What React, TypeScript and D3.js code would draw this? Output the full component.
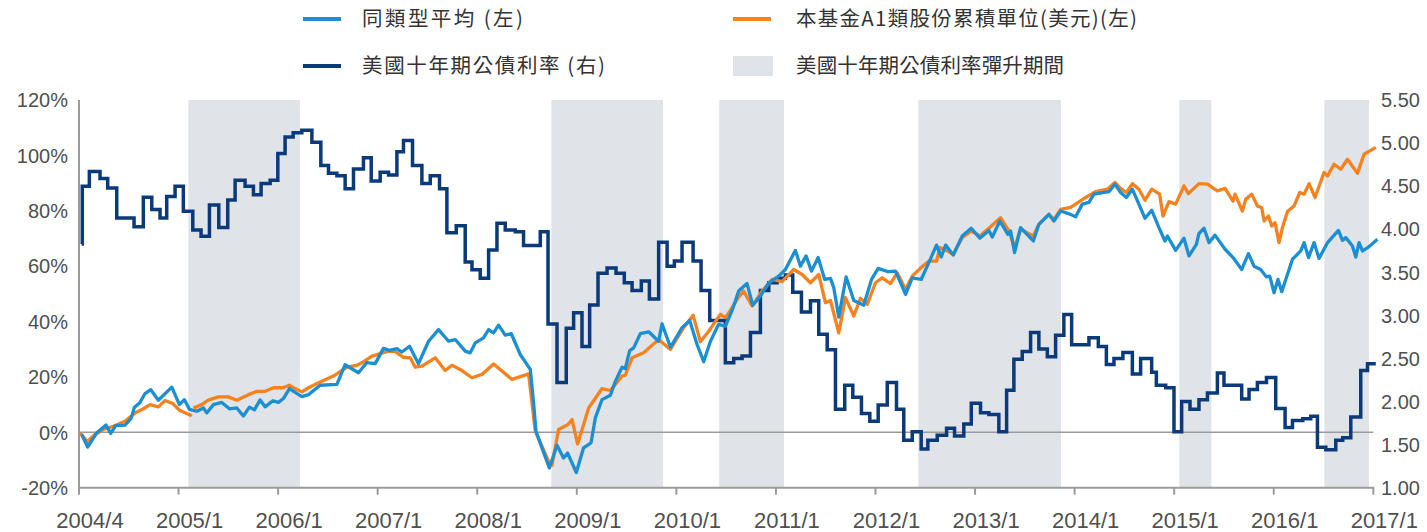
import React from 'react';
import * as d3 from 'd3';

// ---------- data ----------
const xTickLabels = ['2004/4','2005/1','2006/1','2007/1','2008/1','2009/1','2010/1','2011/1','2012/1','2013/1','2014/1','2015/1','2016/1','2017/1'];
const leftTicks = [-20, 0, 20, 40, 60, 80, 100, 120];
const rightTicks = [1.0, 1.5, 2.0, 2.5, 3.0, 3.5, 4.0, 4.5, 5.0, 5.5];

// periods when the US 10Y yield rose (axis units: 1 = one tick interval)
const risePeriods: [number, number][] = [
  [1.098, 2.220], [4.744, 5.866], [6.431, 7.081], [8.430, 9.863], [11.052, 11.373], [12.508, 12.957],
];

// 同類型平均 (%)
const peerAvg: [number, number][] = [
  [0.027,-0.8],[0.087,-5.3],[0.178,-0.2],[0.271,2.6],[0.319,-0.4],[0.369,2.4],[0.462,2.6],[0.523,5.0],[0.556,9.0],[0.613,10.8],[0.663,14.0],[0.721,15.4],[0.797,11.6],[0.932,16.3],[1.008,10.0],[1.058,11.8],[1.109,8.3],[1.183,7.6],[1.249,8.8],[1.283,7.0],[1.350,10.0],[1.434,10.8],[1.511,8.5],[1.585,8.8],[1.651,5.9],[1.712,9.1],[1.762,8.1],[1.819,11.7],[1.869,9.2],[1.947,11.4],[2.003,10.8],[2.053,12.2],[2.114,15.8],[2.171,14.4],[2.238,12.9],[2.305,13.6],[2.422,17.0],[2.590,17.3],[2.673,24.4],[2.807,21.5],[2.891,25.2],[2.975,24.8],[3.058,30.3],[3.119,29.6],[3.193,30.2],[3.243,29.0],[3.320,31.1],[3.410,24.8],[3.511,32.9],[3.611,37.1],[3.712,32.9],[3.779,33.5],[3.879,29.3],[3.930,28.7],[3.980,32.3],[4.063,34.1],[4.114,37.1],[4.164,35.9],[4.214,38.7],[4.281,35.1],[4.342,35.6],[4.432,28.1],[4.533,22.7],[4.566,10.6],[4.590,0.4],[4.650,-5.6],[4.724,-12.9],[4.801,-4.7],[4.867,-9.3],[4.908,-7.5],[4.995,-14.5],[5.068,-5.6],[5.143,-3.8],[5.186,5.2],[5.253,11.8],[5.337,13.4],[5.387,18.4],[5.454,23.5],[5.487,23.0],[5.531,29.5],[5.571,30.5],[5.638,35.6],[5.722,36.3],[5.822,32.9],[5.856,39.2],[5.940,30.7],[6.057,37.8],[6.134,40.4],[6.208,31.7],[6.274,25.5],[6.342,32.9],[6.425,39.0],[6.492,38.3],[6.560,44.0],[6.626,51.0],[6.710,53.7],[6.767,45.9],[6.844,49.2],[6.928,54.0],[7.028,56.4],[7.095,58.8],[7.196,65.7],[7.246,60.0],[7.303,63.7],[7.357,58.2],[7.424,63.1],[7.490,55.2],[7.548,55.6],[7.581,52.2],[7.631,41.6],[7.705,56.1],[7.782,47.6],[7.882,45.9],[7.960,55.2],[8.027,59.2],[8.128,58.0],[8.201,58.2],[8.302,49.8],[8.369,55.8],[8.459,55.2],[8.536,61.3],[8.613,67.6],[8.660,63.3],[8.704,67.6],[8.781,64.0],[8.871,70.9],[8.962,73.7],[9.048,70.1],[9.139,72.9],[9.173,70.5],[9.249,76.3],[9.330,71.5],[9.357,72.7],[9.397,64.9],[9.457,73.9],[9.585,69.1],[9.641,75.1],[9.742,78.7],[9.792,76.3],[9.859,79.9],[9.960,78.7],[10.010,77.8],[10.077,82.4],[10.144,83.0],[10.194,86.0],[10.345,86.9],[10.405,89.6],[10.462,86.6],[10.520,84.8],[10.580,87.8],[10.707,77.3],[10.774,80.2],[10.847,73.9],[10.907,69.1],[10.932,70.9],[11.015,65.7],[11.098,70.1],[11.149,63.7],[11.223,67.9],[11.249,71.8],[11.300,73.7],[11.350,68.5],[11.410,71.2],[11.511,66.1],[11.591,63.1],[11.678,58.8],[11.746,64.5],[11.802,60.0],[11.869,58.8],[11.927,56.1],[11.960,56.4],[12.003,50.4],[12.043,55.2],[12.080,50.8],[12.121,55.2],[12.188,62.5],[12.271,65.5],[12.305,68.5],[12.349,63.1],[12.405,68.5],[12.455,62.8],[12.540,68.5],[12.650,72.9],[12.690,69.3],[12.724,70.3],[12.791,67.3],[12.824,63.3],[12.857,68.5],[12.891,65.5],[12.952,66.9],[13.042,69.7],
];

// 本基金A1類股份累積單位(美元) (%), null = gap in the record
const fundA1: [number, number | null][] = [
  [0.010,-0.2],[0.083,-3.3],[0.161,-0.8],[0.244,1.0],[0.345,2.2],[0.462,4.0],[0.563,7.0],[0.646,8.5],[0.714,10.0],[0.797,9.2],[0.864,11.5],[0.942,10.4],[1.008,8.0],[1.133,6.0],
  [1.141,null],
  [1.149,8.8],[1.233,10.0],[1.299,11.6],[1.400,12.8],[1.500,12.8],[1.585,11.6],[1.702,13.6],[1.786,14.8],[1.869,14.8],[1.953,16.1],[2.047,16.1],[2.114,17.0],[2.171,15.8],[2.238,14.6],[2.305,16.1],[2.422,18.2],[2.556,20.3],[2.690,23.5],[2.791,24.2],[2.841,25.1],[2.942,27.5],[3.109,29.3],[3.176,29.1],[3.259,27.1],[3.327,26.9],[3.377,23.5],[3.444,23.9],[3.578,26.9],[3.678,22.3],[3.746,24.2],[3.829,22.7],[3.947,19.7],[4.047,20.9],[4.164,24.7],[4.349,19.1],[4.516,21.1],[4.583,0.4],[4.717,-10.5],[4.751,-11.9],[4.817,1.0],[4.912,2.8],[4.952,4.6],[5.008,-4.2],[5.119,8.8],[5.253,15.8],[5.337,15.1],[5.454,20.3],[5.487,20.6],[5.555,26.9],[5.671,28.7],[5.822,33.5],[5.940,29.9],[6.073,37.8],[6.168,42.3],[6.241,32.7],[6.325,36.5],[6.442,42.6],[6.492,41.4],[6.543,44.0],[6.626,48.9],[6.676,51.0],[6.761,45.6],[6.861,51.0],[6.962,55.2],[7.062,54.4],[7.179,58.8],[7.263,57.0],[7.347,54.0],[7.430,57.0],[7.497,46.8],[7.548,47.6],[7.631,35.9],[7.698,48.6],[7.782,42.0],[7.849,48.4],[7.917,46.2],[8.000,54.0],[8.067,55.8],[8.151,53.7],[8.218,57.6],[8.302,51.6],[8.369,56.4],[8.459,59.5],[8.536,61.8],[8.613,61.8],[8.646,66.7],[8.720,65.5],[8.781,64.3],[8.871,70.3],[8.962,72.7],[9.048,70.9],[9.139,73.7],[9.256,77.5],[9.340,72.7],[9.397,66.7],[9.457,73.3],[9.585,70.9],[9.641,75.1],[9.742,78.7],[9.792,76.9],[9.859,80.5],[9.960,81.2],[10.010,82.4],[10.111,84.8],[10.211,86.9],[10.329,87.8],[10.405,90.2],[10.462,88.1],[10.520,86.6],[10.580,89.8],[10.646,87.8],[10.707,83.8],[10.774,87.8],[10.854,86.0],[10.887,78.1],[10.947,83.3],[11.015,82.4],[11.098,89.0],[11.143,86.2],[11.249,89.8],[11.334,89.6],[11.434,87.2],[11.511,88.1],[11.591,83.5],[11.611,86.0],[11.685,79.9],[11.719,84.2],[11.779,86.0],[11.836,81.7],[11.879,81.2],[11.903,76.3],[11.947,78.1],[11.980,74.5],[12.013,75.7],[12.053,68.5],[12.087,73.9],[12.138,79.7],[12.204,81.7],[12.261,86.6],[12.305,86.0],[12.355,89.8],[12.415,84.8],[12.505,93.8],[12.540,92.6],[12.606,96.8],[12.673,95.0],[12.741,98.6],[12.841,93.5],[12.907,100.4],[13.025,102.9],
];

// 美國十年期公債利率 (%), step series (value holds until next point)
const us10y: [number, number][] = [
  [0.027,3.83],[0.033,4.50],[0.104,4.67],[0.211,4.59],[0.288,4.48],[0.379,4.13],[0.553,4.03],[0.646,4.37],[0.731,4.23],[0.814,4.13],[0.881,4.38],[0.965,4.50],[1.048,4.21],[1.143,3.99],[1.226,3.92],[1.310,4.28],[1.404,4.02],[1.494,4.34],[1.568,4.57],[1.668,4.50],[1.752,4.40],[1.829,4.53],[1.920,4.57],[1.997,4.88],[2.070,5.07],[2.151,5.12],[2.238,5.15],[2.339,5.01],[2.429,4.74],[2.506,4.65],[2.590,4.62],[2.673,4.47],[2.757,4.70],[2.857,4.83],[2.935,4.56],[3.025,4.66],[3.109,4.63],[3.193,4.90],[3.259,5.03],[3.350,4.74],[3.444,4.53],[3.528,4.62],[3.621,4.47],[3.695,3.96],[3.789,4.04],[3.879,3.62],[3.947,3.53],[4.030,3.43],[4.114,3.76],[4.198,4.07],[4.281,3.99],[4.382,3.97],[4.465,3.81],[4.633,3.97],[4.711,2.90],[4.801,2.22],[4.894,2.85],[4.968,3.03],[5.052,2.64],[5.129,3.12],[5.213,3.49],[5.304,3.55],[5.394,3.49],[5.477,3.38],[5.555,3.29],[5.648,3.40],[5.729,3.19],[5.822,3.85],[5.907,3.57],[5.980,3.63],[6.057,3.85],[6.168,3.63],[6.248,3.29],[6.335,2.94],[6.492,2.45],[6.576,2.50],[6.660,2.53],[6.744,2.80],[6.844,3.29],[6.928,3.38],[7.012,3.43],[7.095,3.47],[7.169,3.27],[7.256,3.04],[7.347,3.17],[7.430,2.78],[7.515,2.60],[7.598,1.91],[7.691,2.19],[7.772,2.05],[7.859,1.86],[7.943,1.77],[8.027,1.96],[8.118,2.22],[8.211,1.91],[8.284,1.55],[8.369,1.65],[8.459,1.45],[8.526,1.55],[8.620,1.61],[8.714,1.69],[8.794,1.60],[8.887,1.74],[8.962,1.98],[9.055,1.87],[9.139,1.85],[9.239,1.65],[9.317,2.13],[9.390,2.49],[9.474,2.58],[9.558,2.80],[9.641,2.61],[9.726,2.52],[9.809,2.77],[9.892,3.01],[9.970,2.66],[10.144,2.74],[10.238,2.64],[10.319,2.43],[10.395,2.50],[10.485,2.57],[10.580,2.32],[10.663,2.50],[10.774,2.34],[10.821,2.19],[10.915,2.16],[10.998,1.65],[11.075,2.00],[11.159,1.91],[11.249,2.02],[11.334,2.10],[11.434,2.33],[11.500,2.19],[11.678,2.03],[11.752,2.14],[11.836,2.22],[11.927,2.28],[12.020,1.92],[12.114,1.70],[12.188,1.78],[12.291,1.80],[12.372,1.83],[12.439,1.47],[12.523,1.44],[12.623,1.55],[12.693,1.58],[12.774,1.82],[12.874,2.36],[12.942,2.44],[13.025,2.44],
];

const legendLabels = ['同類型平均 (左)', '本基金A1類股份累積單位(美元)(左)', '美國十年期公債利率 (右)', '美國十年期公債利率彈升期間'];
const legendKinds = ['line', 'line', 'line', 'box'];
const legendColors = ['#1b8fd2', '#f5821f', '#0b3a7a', '#e0e3e7'];
const legendWidths = [161, 341, 243, 268];

// ---------- layout ----------
const W = 1427, H = 532;
const M = { left: 79, right: 1373.3, top: 100, bottom: 487.7 };
const COLORS = { peer: '#1b8fd2', fund: '#f5821f', rate: '#0b3a7a', shade: '#e0e3e7', axis: '#9b9b9b', text: '#505050' };
const NUM_FONT = '"Liberation Sans", Arial, Helvetica, sans-serif';
const CJK_FONT = '"Noto Sans CJK TC", "Noto Sans CJK SC", sans-serif';

export default function App() {
  const x = d3.scaleLinear().domain([0, 13]).range([M.left, M.right]);
  const yL = d3.scaleLinear().domain([-20, 120]).range([M.bottom, M.top]);
  const yR = d3.scaleLinear().domain([1, 5.5]).range([M.bottom, M.top]);

  const peerLine = d3.line<[number, number]>().x(d => x(d[0])).y(d => yL(d[1]));
  const fundLine = d3.line<[number, number | null]>()
    .defined(d => d[1] !== null)
    .x(d => x(d[0])).y(d => yL(d[1] as number));
  const rateLine = d3.line<[number, number]>().x(d => x(d[0])).y(d => yR(d[1])).curve(d3.curveStepAfter);

  const colX = [303, 733];
  const textX = [362, 796];
  const rowY = [19, 66];

  return (
    <svg width={W} height={H} style={{ position: 'absolute', left: 0, top: 0, display: 'block', background: '#fff' }}>
      {/* shaded periods */}
      {risePeriods.map(([a, b], i) => (
        <rect key={'s' + i} x={x(a)} y={M.top} width={x(b) - x(a)} height={M.bottom - M.top} fill={COLORS.shade} />
      ))}

      {/* zero line */}
      <line x1={M.left} x2={M.right} y1={yL(0)} y2={yL(0)} stroke={COLORS.axis} strokeWidth={1.5} />

      {/* axes */}
      <line x1={M.left} x2={M.left} y1={M.top} y2={M.bottom} stroke={COLORS.axis} strokeWidth={2} />
      <line x1={M.left - 1} x2={M.right + 1} y1={M.bottom} y2={M.bottom} stroke={COLORS.axis} strokeWidth={2} />
      {xTickLabels.map((lab, i) => (
        <g key={'xt' + i}>
          <line x1={x(i)} x2={x(i)} y1={M.bottom} y2={M.bottom + 7} stroke={COLORS.axis} strokeWidth={2} />
          <text x={x(i) + 11} y={528} textAnchor="middle" fontFamily={NUM_FONT} fontSize={22} fill={COLORS.text}>{lab}</text>
        </g>
      ))}
      {leftTicks.map(v => (
        <text key={'l' + v} x={68} y={yL(v)} dy="0.36em" textAnchor="end" fontFamily={NUM_FONT} fontSize={20} fill={COLORS.text}>{v}%</text>
      ))}
      {rightTicks.map(v => (
        <text key={'r' + v} x={1381} y={yR(v)} dy="0.36em" textAnchor="start" fontFamily={NUM_FONT} fontSize={20} fill={COLORS.text}>{v.toFixed(2)}</text>
      ))}

      {/* series */}
      <path d={rateLine(us10y) || ''} fill="none" stroke={COLORS.rate} strokeWidth={3.5} strokeLinejoin="miter" />
      <path d={fundLine(fundA1) || ''} fill="none" stroke={COLORS.fund} strokeWidth={3.3} strokeLinejoin="round" />
      <path d={peerLine(peerAvg) || ''} fill="none" stroke={COLORS.peer} strokeWidth={3.3} strokeLinejoin="round" />

      {/* legend */}
      {legendLabels.map((lab, i) => {
        const col = i % 2, row = Math.floor(i / 2);
        return (
          <g key={'lg' + i}>
            {legendKinds[i] === 'line'
              ? <line x1={colX[col]} x2={colX[col] + 38} y1={rowY[row]} y2={rowY[row]} stroke={legendColors[i]} strokeWidth={4} />
              : <rect x={colX[col]} y={rowY[row] - 10} width={40} height={20} fill={legendColors[i]} />}
            <text x={textX[col]} y={rowY[row]} dy="0.36em" fontFamily={CJK_FONT} fontSize={20.5} fill="#333"
              textLength={legendWidths[i]} lengthAdjust="spacing">{lab}</text>
          </g>
        );
      })}
    </svg>
  );
}
